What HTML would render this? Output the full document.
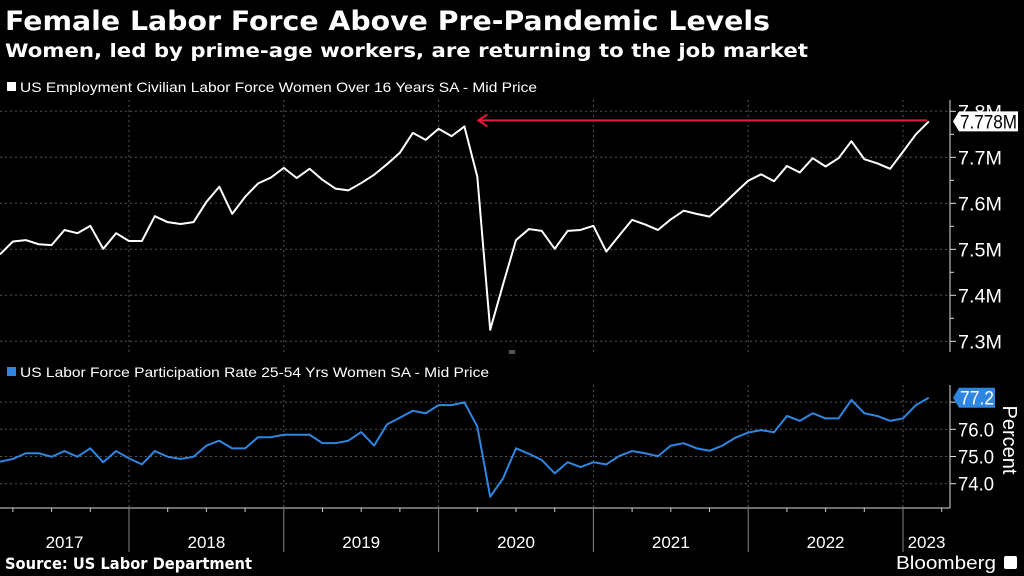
<!DOCTYPE html>
<html><head><meta charset="utf-8"><style>
html,body{margin:0;padding:0;background:#000;}
svg{display:block;font-family:"Liberation Sans","DejaVu Sans",sans-serif;}
</style></head><body>
<svg id="chart" width="1024" height="576" viewBox="0 0 1024 576">
<rect x="0" y="0" width="1024" height="576" fill="#000"/>
<text x="5" y="30" fill="#fff" font-size="27" font-weight="bold" textLength="765" lengthAdjust="spacingAndGlyphs" font-family="DejaVu Sans, sans-serif">Female Labor Force Above Pre-Pandemic Levels</text>
<text x="5" y="57" fill="#fff" font-size="19" font-weight="bold" textLength="803" lengthAdjust="spacingAndGlyphs" font-family="DejaVu Sans, sans-serif">Women, led by prime-age workers, are returning to the job market</text>
<rect x="7" y="82" width="9" height="9" fill="#fff"/>
<text x="20" y="92" fill="#fff" font-size="14" textLength="517" lengthAdjust="spacingAndGlyphs">US Employment Civilian Labor Force Women Over 16 Years SA - Mid Price</text>
<rect x="7" y="367" width="9" height="9" fill="#2f86e0"/>
<text x="20" y="377" fill="#fff" font-size="14" textLength="469" lengthAdjust="spacingAndGlyphs">US Labor Force Participation Rate 25-54 Yrs Women SA - Mid Price</text>
<text x="5" y="569" fill="#fff" font-size="16" font-weight="bold" textLength="247" lengthAdjust="spacingAndGlyphs" font-family="DejaVu Sans, sans-serif">Source: US Labor Department</text>
<text x="896" y="569" fill="#fff" font-size="18" textLength="100" lengthAdjust="spacingAndGlyphs">Bloomberg</text>
<rect x="1004" y="556" width="13" height="13" rx="2" fill="#fff"/>
<rect x="509" y="350" width="6" height="4" fill="#555"/>
<g id="grid"></g>
<g id="plot"></g>
</svg>
<script>
const topValues=[7.489,7.517,7.520,7.511,7.509,7.542,7.535,7.551,7.501,7.535,7.518,7.518,7.572,7.559,7.555,7.559,7.603,7.636,7.577,7.614,7.643,7.656,7.677,7.655,7.675,7.651,7.632,7.628,7.644,7.662,7.685,7.710,7.753,7.738,7.762,7.746,7.767,7.658,7.325,7.424,7.520,7.544,7.540,7.501,7.540,7.542,7.551,7.495,7.530,7.564,7.554,7.542,7.565,7.584,7.577,7.571,7.596,7.623,7.649,7.663,7.648,7.681,7.667,7.698,7.680,7.698,7.735,7.696,7.687,7.675,7.712,7.750,7.778];
const bottomValues=[74.81,74.91,75.12,75.12,74.99,75.20,74.99,75.30,74.79,75.20,74.93,74.71,75.20,74.99,74.91,74.99,75.40,75.58,75.30,75.30,75.71,75.71,75.80,75.80,75.80,75.49,75.49,75.58,75.90,75.40,76.18,76.43,76.68,76.59,76.89,76.89,76.99,76.10,73.52,74.20,75.30,75.10,74.87,74.38,74.79,74.61,74.79,74.71,75.02,75.20,75.12,75.01,75.40,75.49,75.30,75.21,75.40,75.69,75.88,75.97,75.89,76.49,76.31,76.59,76.40,76.40,77.08,76.59,76.49,76.31,76.40,76.89,77.16];
const topTicks=[7.3,7.4,7.5,7.6,7.7,7.8];
const topTickLabels=["7.3M","7.4M","7.5M","7.6M","7.7M","7.8M"];
const bottomTicks=[74,75,76,77];
const bottomTickLabels=["74.0","75.0","76.0",""];
const years=["2017","2018","2019","2020","2021","2022","2023"];
const yearStartIndex=[-2,10,22,34,46,58,70]; // month index of January (index 0 = Mar 2017)
const topLastLabel="7.778M";
const bottomLastLabel="77.2";

const NS="http://www.w3.org/2000/svg";
const grid=document.getElementById('grid'), plot=document.getElementById('plot');
const X=i=>i*12.9;
const yTop=v=>157.3-(v-7.7)*460;
const yBot=v=>429.3-(v-76)*27.2;
function mk(tag,attrs,parent){const e=document.createElementNS(NS,tag);for(const k in attrs)e.setAttribute(k,attrs[k]);parent.appendChild(e);return e;}
const AX=950;
topTicks.forEach((t,k)=>{
  const l=mk('line',{x1:0,x2:AX,y1:yTop(t),y2:yTop(t),stroke:'#555','stroke-dasharray':'2,3','stroke-width':1},grid);
  
  
  const tk=mk('line',{x1:AX,x2:AX+6,y1:yTop(t),y2:yTop(t),stroke:'#ddd'},grid);
  
  
  if(k<topTicks.length-1){
    const mt=mk('line',{x1:AX,x2:AX+4,y1:yTop(t+0.05),y2:yTop(t+0.05),stroke:'#ddd'},grid);
    
    
  }
  const tx=mk('text',{x:AX+8,y:yTop(t)+7,fill:'#fff','font-size':19,textLength:44,lengthAdjust:'spacingAndGlyphs'},grid);
  tx.textContent=topTickLabels[k];
  
  
});
bottomTicks.forEach((t,k)=>{
  const l=mk('line',{x1:0,x2:AX,y1:yBot(t),y2:yBot(t),stroke:'#555','stroke-dasharray':'2,3'},grid);
  
  
  const tk=mk('line',{x1:AX,x2:AX+6,y1:yBot(t),y2:yBot(t),stroke:'#ddd'},grid);
  
  
  if(bottomTickLabels[k]){
    const tx=mk('text',{x:AX+8,y:yBot(t)+7,fill:'#fff','font-size':19,textLength:36,lengthAdjust:'spacingAndGlyphs'},grid);
    tx.textContent=bottomTickLabels[k];
    
    
  }
});
let a=mk('line',{x1:AX,x2:AX,y1:100,y2:352,stroke:'#ddd'},grid);


a=mk('line',{x1:AX,x2:AX,y1:385,y2:508,stroke:'#ddd'},grid);


a=mk('line',{x1:0,x2:AX,y1:508,y2:508,stroke:'#ddd'},grid);


let pt=mk('text',{transform:'translate(1003,440) rotate(90)',fill:'#fff','font-size':20,'text-anchor':'middle'},grid);
pt.textContent='Percent';


years.forEach((y,k)=>{
  const x=X(yearStartIndex[k]);
  if(x>0){
    const g1=mk('line',{x1:x,x2:x,y1:100,y2:352,stroke:'#555','stroke-dasharray':'2,3'},grid);
    
    
    const g2=mk('line',{x1:x,x2:x,y1:385,y2:508,stroke:'#555','stroke-dasharray':'2,3'},grid);
    
    
    const s=mk('line',{x1:x,x2:x,y1:508,y2:552,stroke:'#888'},grid);
    
    
  }
  for(let q=1;q<4;q++){const qx=X(yearStartIndex[k]+q*3);if(qx>0&&qx<AX){const t=mk('line',{x1:qx,x2:qx,y1:508,y2:512,stroke:'#ccc'},grid);
    
    }}
  const x0=Math.max(0,x), x1=Math.min(AX,X(yearStartIndex[k]+12));
  const tx=mk('text',{x:(x0+x1)/2,y:548,fill:'#fff','font-size':17,'text-anchor':'middle'},grid);
  tx.textContent=y;
  
  
});
const l1=mk('polyline',{points:topValues.map((v,i)=>X(i)+','+yTop(v)).join(' '),fill:'none',stroke:'#fff','stroke-width':2,'stroke-linejoin':'round'},plot);


const l2=mk('polyline',{points:bottomValues.map((v,i)=>X(i)+','+yBot(v)).join(' '),fill:'none',stroke:'#2f86e0','stroke-width':2,'stroke-linejoin':'round'},plot);


const ay=yTop(topValues[topValues.length-1])-1;
const ar=mk('g',{stroke:'#e8193c','stroke-width':2,fill:'none'},plot);


mk('line',{x1:X(36)+13,x2:X(71)+11,y1:ay,y2:ay},ar);
mk('polyline',{points:`${X(36)+23},${ay-6} ${X(36)+14},${ay} ${X(36)+23},${ay+6}`},ar);
const ty=yTop(topValues[topValues.length-1]);
const b1=mk('path',{d:`M${AX+3},${ty} L${AX+9},${ty-10} H1018 V${ty+10} H${AX+9} Z`,fill:'#fff'},plot);


const t1=mk('text',{x:AX+10,y:ty+7,fill:'#000','font-size':19,textLength:57,lengthAdjust:'spacingAndGlyphs'},plot);
t1.textContent=topLastLabel;


const by=yBot(bottomValues[bottomValues.length-1]);
const b2=mk('path',{d:`M${AX+3},${by} L${AX+9},${by-10} H995 V${by+10} H${AX+9} Z`,fill:'#2f86e0'},plot);


const t2=mk('text',{x:AX+10,y:by+7,fill:'#fff','font-size':19,textLength:34,lengthAdjust:'spacingAndGlyphs'},plot);
t2.textContent=bottomLastLabel;


</script>
</body></html>
